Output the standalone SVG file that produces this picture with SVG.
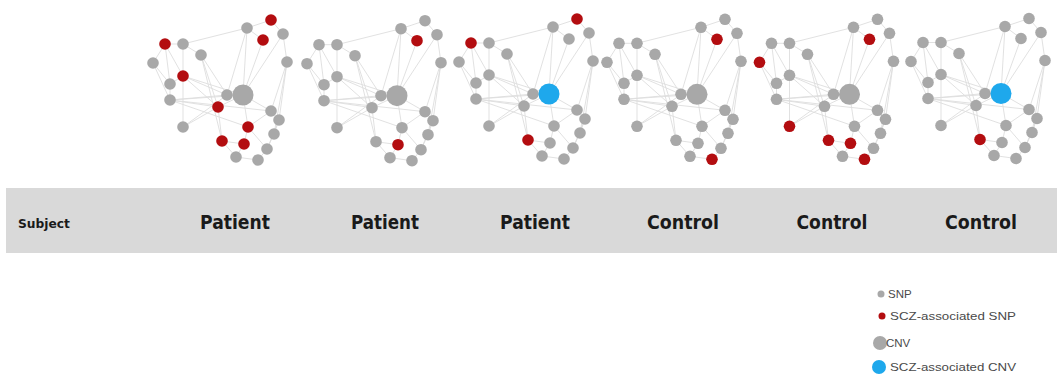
<svg xmlns="http://www.w3.org/2000/svg" xmlns:xlink="http://www.w3.org/1999/xlink" width="1057" height="376" viewBox="0 0 1057 376">
<style>
.e{fill:none;stroke:#dedede;stroke-width:0.9}
.g{fill:#a8a8a8}
.r{fill:#b30d10}
.b{fill:#1ea8ec}
circle{r:5.8px}
circle.big{r:10.5px}
.lbl{font-family:"DejaVu Sans",sans-serif;font-weight:bold;font-size:19px;fill:#1a1a1a;text-anchor:middle}
.subj{font-family:"DejaVu Sans",sans-serif;font-weight:bold;font-size:12px;fill:#1a1a1a}
.leg{font-family:"Liberation Sans",Arial,sans-serif;font-size:11.5px;fill:#4a4a4a}
</style>
<defs>
<path id="edges" class="e" d="M183 44L247 28M165 44L183 44M165 44L183 76M165 44L153 63M165 44L170 84M183 44L183 127M183 44L201 55M201 55L227 95M201 55L218 107M201 55L222 141M247 28L227 95M247 28L243 95M247 28L263 40M247 28L271 20M271 20L283 34M263 40L243 95M283 34L243 95M283 34L287 62M287 62L271 111M287 62L279 120M287 62L274 134M153 63L170 84M153 63L170 100M183 76L170 84M183 76L227 95M183 76L243 95M183 76L218 107M170 84L170 100M170 100L227 95M170 100L218 107M170 100L243 95M170 100L248 127M170 100L271 111M243 95L218 107M218 107L183 127M218 107L222 141M243 95L248 127M243 95L271 111M271 111L279 120M279 120L274 134M274 134L267 149M267 149L258 160M236 157L258 160M244 144L236 157M222 141L244 144M248 127L244 144M248 127L267 149M271 111L248 127M183 127L227 95M222 141L236 157M279 120L267 149"/>
</defs>
<rect x="6" y="188" width="1051" height="65" fill="#d9d9d9"/>
<g id="connectors">
<use xlink:href="#edges" href="#edges"/>
<use xlink:href="#edges" href="#edges" transform="translate(154,0.7)"/>
<use xlink:href="#edges" href="#edges" transform="translate(306,-1)"/>
<use xlink:href="#edges" href="#edges" transform="translate(454,-0.7)"/>
<use xlink:href="#edges" href="#edges" transform="translate(606.5,-0.7)"/>
<use xlink:href="#edges" href="#edges" transform="translate(758,-1.5)"/>
</g>
<g id="net1">
<circle class="r" cx="271" cy="20" r="5.8"/><circle class="g" cx="247" cy="28" r="5.8"/><circle class="g" cx="283" cy="34" r="5.8"/><circle class="r" cx="263" cy="40" r="5.8"/><circle class="r" cx="165" cy="44" r="5.8"/><circle class="g" cx="183" cy="44" r="5.8"/><circle class="g" cx="201" cy="55" r="5.8"/><circle class="g" cx="153" cy="63" r="5.8"/><circle class="g" cx="287" cy="62" r="5.8"/><circle class="r" cx="183" cy="76" r="5.8"/><circle class="g" cx="170" cy="84" r="5.8"/><circle class="g" cx="170" cy="100" r="5.8"/><circle class="g" cx="227" cy="95" r="5.8"/><circle class="g big" cx="243" cy="95" r="10.5"/><circle class="r" cx="218" cy="107" r="5.8"/><circle class="g" cx="271" cy="111" r="5.8"/><circle class="g" cx="279" cy="120" r="5.8"/><circle class="g" cx="183" cy="127" r="5.8"/><circle class="r" cx="248" cy="127" r="5.8"/><circle class="g" cx="274" cy="134" r="5.8"/><circle class="r" cx="222" cy="141" r="5.8"/><circle class="r" cx="244" cy="144" r="5.8"/><circle class="g" cx="267" cy="149" r="5.8"/><circle class="g" cx="236" cy="157" r="5.8"/><circle class="g" cx="258" cy="160" r="5.8"/>
</g>
<g id="net2" transform="translate(154,0.7)">
<circle class="g" cx="271" cy="20" r="5.8"/><circle class="g" cx="247" cy="28" r="5.8"/><circle class="g" cx="283" cy="34" r="5.8"/><circle class="r" cx="263" cy="40" r="5.8"/><circle class="g" cx="165" cy="44" r="5.8"/><circle class="g" cx="183" cy="44" r="5.8"/><circle class="g" cx="201" cy="55" r="5.8"/><circle class="g" cx="153" cy="63" r="5.8"/><circle class="g" cx="287" cy="62" r="5.8"/><circle class="g" cx="183" cy="76" r="5.8"/><circle class="g" cx="170" cy="84" r="5.8"/><circle class="g" cx="170" cy="100" r="5.8"/><circle class="g" cx="227" cy="95" r="5.8"/><circle class="g big" cx="243" cy="95" r="10.5"/><circle class="g" cx="218" cy="107" r="5.8"/><circle class="g" cx="271" cy="111" r="5.8"/><circle class="g" cx="279" cy="120" r="5.8"/><circle class="g" cx="183" cy="127" r="5.8"/><circle class="g" cx="248" cy="127" r="5.8"/><circle class="g" cx="274" cy="134" r="5.8"/><circle class="g" cx="222" cy="141" r="5.8"/><circle class="r" cx="244" cy="144" r="5.8"/><circle class="g" cx="267" cy="149" r="5.8"/><circle class="g" cx="236" cy="157" r="5.8"/><circle class="g" cx="258" cy="160" r="5.8"/>
</g>
<g id="net3" transform="translate(306,-1)">
<circle class="r" cx="271" cy="20" r="5.8"/><circle class="g" cx="247" cy="28" r="5.8"/><circle class="g" cx="283" cy="34" r="5.8"/><circle class="g" cx="263" cy="40" r="5.8"/><circle class="r" cx="165" cy="44" r="5.8"/><circle class="g" cx="183" cy="44" r="5.8"/><circle class="g" cx="201" cy="55" r="5.8"/><circle class="g" cx="153" cy="63" r="5.8"/><circle class="g" cx="287" cy="62" r="5.8"/><circle class="g" cx="183" cy="76" r="5.8"/><circle class="g" cx="170" cy="84" r="5.8"/><circle class="g" cx="170" cy="100" r="5.8"/><circle class="g" cx="227" cy="95" r="5.8"/><circle class="b big" cx="243" cy="95" r="10.5"/><circle class="g" cx="218" cy="107" r="5.8"/><circle class="g" cx="271" cy="111" r="5.8"/><circle class="g" cx="279" cy="120" r="5.8"/><circle class="g" cx="183" cy="127" r="5.8"/><circle class="g" cx="248" cy="127" r="5.8"/><circle class="g" cx="274" cy="134" r="5.8"/><circle class="r" cx="222" cy="141" r="5.8"/><circle class="g" cx="244" cy="144" r="5.8"/><circle class="g" cx="267" cy="149" r="5.8"/><circle class="g" cx="236" cy="157" r="5.8"/><circle class="g" cx="258" cy="160" r="5.8"/>
</g>
<g id="net4" transform="translate(454,-0.7)">
<circle class="g" cx="271" cy="20" r="5.8"/><circle class="g" cx="247" cy="28" r="5.8"/><circle class="g" cx="283" cy="34" r="5.8"/><circle class="r" cx="263" cy="40" r="5.8"/><circle class="g" cx="165" cy="44" r="5.8"/><circle class="g" cx="183" cy="44" r="5.8"/><circle class="g" cx="201" cy="55" r="5.8"/><circle class="g" cx="153" cy="63" r="5.8"/><circle class="g" cx="287" cy="62" r="5.8"/><circle class="g" cx="183" cy="76" r="5.8"/><circle class="g" cx="170" cy="84" r="5.8"/><circle class="g" cx="170" cy="100" r="5.8"/><circle class="g" cx="227" cy="95" r="5.8"/><circle class="g big" cx="243" cy="95" r="10.5"/><circle class="g" cx="218" cy="107" r="5.8"/><circle class="g" cx="271" cy="111" r="5.8"/><circle class="g" cx="279" cy="120" r="5.8"/><circle class="g" cx="183" cy="127" r="5.8"/><circle class="g" cx="248" cy="127" r="5.8"/><circle class="g" cx="274" cy="134" r="5.8"/><circle class="g" cx="222" cy="141" r="5.8"/><circle class="g" cx="244" cy="144" r="5.8"/><circle class="g" cx="267" cy="149" r="5.8"/><circle class="g" cx="236" cy="157" r="5.8"/><circle class="r" cx="258" cy="160" r="5.8"/>
</g>
<g id="net5" transform="translate(606.5,-0.7)">
<circle class="g" cx="271" cy="20" r="5.8"/><circle class="g" cx="247" cy="28" r="5.8"/><circle class="g" cx="283" cy="34" r="5.8"/><circle class="r" cx="263" cy="40" r="5.8"/><circle class="g" cx="165" cy="44" r="5.8"/><circle class="g" cx="183" cy="44" r="5.8"/><circle class="g" cx="201" cy="55" r="5.8"/><circle class="r" cx="153" cy="63" r="5.8"/><circle class="g" cx="287" cy="62" r="5.8"/><circle class="g" cx="183" cy="76" r="5.8"/><circle class="g" cx="170" cy="84" r="5.8"/><circle class="g" cx="170" cy="100" r="5.8"/><circle class="g" cx="227" cy="95" r="5.8"/><circle class="g big" cx="243" cy="95" r="10.5"/><circle class="g" cx="218" cy="107" r="5.8"/><circle class="g" cx="271" cy="111" r="5.8"/><circle class="g" cx="279" cy="120" r="5.8"/><circle class="r" cx="183" cy="127" r="5.8"/><circle class="g" cx="248" cy="127" r="5.8"/><circle class="g" cx="274" cy="134" r="5.8"/><circle class="r" cx="222" cy="141" r="5.8"/><circle class="r" cx="244" cy="144" r="5.8"/><circle class="g" cx="267" cy="149" r="5.8"/><circle class="g" cx="236" cy="157" r="5.8"/><circle class="r" cx="258" cy="160" r="5.8"/>
</g>
<g id="net6" transform="translate(758,-1.5)">
<circle class="g" cx="271" cy="20" r="5.8"/><circle class="g" cx="247" cy="28" r="5.8"/><circle class="g" cx="283" cy="34" r="5.8"/><circle class="g" cx="263" cy="40" r="5.8"/><circle class="g" cx="165" cy="44" r="5.8"/><circle class="g" cx="183" cy="44" r="5.8"/><circle class="g" cx="201" cy="55" r="5.8"/><circle class="g" cx="153" cy="63" r="5.8"/><circle class="g" cx="287" cy="62" r="5.8"/><circle class="g" cx="183" cy="76" r="5.8"/><circle class="g" cx="170" cy="84" r="5.8"/><circle class="g" cx="170" cy="100" r="5.8"/><circle class="g" cx="227" cy="95" r="5.8"/><circle class="b big" cx="243" cy="95" r="10.5"/><circle class="g" cx="218" cy="107" r="5.8"/><circle class="g" cx="271" cy="111" r="5.8"/><circle class="g" cx="279" cy="120" r="5.8"/><circle class="g" cx="183" cy="127" r="5.8"/><circle class="g" cx="248" cy="127" r="5.8"/><circle class="g" cx="274" cy="134" r="5.8"/><circle class="r" cx="222" cy="141" r="5.8"/><circle class="g" cx="244" cy="144" r="5.8"/><circle class="g" cx="267" cy="149" r="5.8"/><circle class="g" cx="236" cy="157" r="5.8"/><circle class="g" cx="258" cy="160" r="5.8"/>
</g>
<g id="labels">
<text class="subj" x="18" y="228" textLength="52" lengthAdjust="spacingAndGlyphs">Subject</text>
<text class="lbl" x="235" y="229" textLength="70" lengthAdjust="spacingAndGlyphs">Patient</text>
<text class="lbl" x="385" y="229" textLength="68" lengthAdjust="spacingAndGlyphs">Patient</text>
<text class="lbl" x="535" y="229" textLength="70" lengthAdjust="spacingAndGlyphs">Patient</text>
<text class="lbl" x="683" y="229" textLength="72" lengthAdjust="spacingAndGlyphs">Control</text>
<text class="lbl" x="832" y="229" textLength="71" lengthAdjust="spacingAndGlyphs">Control</text>
<text class="lbl" x="981" y="229" textLength="72" lengthAdjust="spacingAndGlyphs">Control</text>
</g>
<g id="legend">
<circle class="g" cx="881" cy="294" r="3.5" style="r:3.5px"/>
<text class="leg" x="888" y="298">SNP</text>
<circle class="r" cx="882" cy="316" r="3.5" style="r:3.5px"/>
<text class="leg" x="890" y="320" textLength="126" lengthAdjust="spacingAndGlyphs">SCZ-associated SNP</text>
<circle class="g" cx="880" cy="343" r="7" style="r:7px"/>
<text class="leg" x="886" y="347">CNV</text>
<circle class="b" cx="879" cy="367" r="7" style="r:7px"/>
<text class="leg" x="890" y="371" textLength="126" lengthAdjust="spacingAndGlyphs">SCZ-associated CNV</text>
</g>
</svg>
